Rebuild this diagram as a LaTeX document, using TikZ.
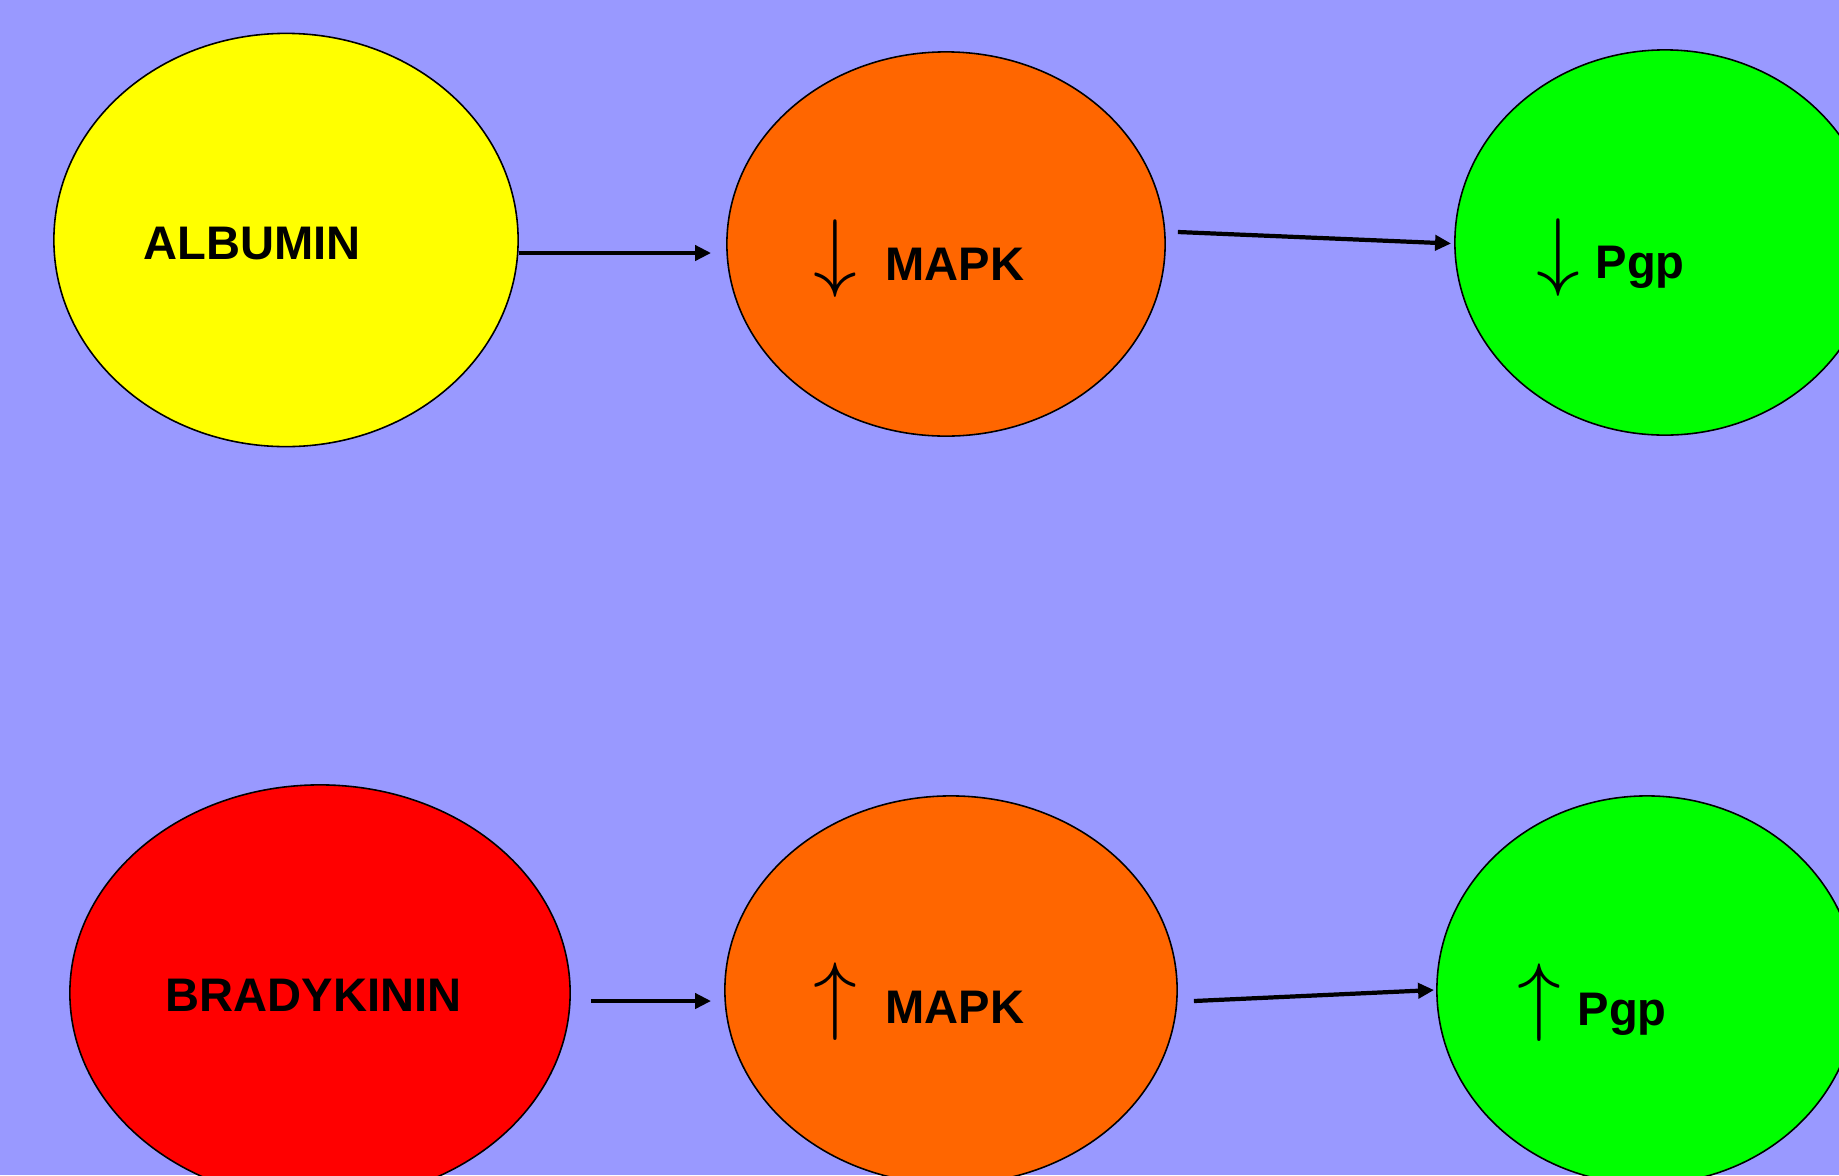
\documentclass[tikz,border=0pt]{standalone}
\usepackage{fontspec}
\setmainfont{Liberation Sans}
\usetikzlibrary{shapes.geometric,arrows.meta,calc}
\definecolor{bgblue}{HTML}{9999FF}
\definecolor{yellowc}{HTML}{FFFF00}
\definecolor{orangec}{HTML}{FF6600}
\definecolor{greenc}{HTML}{00FF00}
\definecolor{redc}{HTML}{FF0000}
\begin{document}
\begin{tikzpicture}[x=0.01cm,y=-0.01cm,
  blob/.style={ellipse,draw=black,line width=0.45pt,inner sep=0pt},
  lbl/.style={anchor=base west,inner sep=0pt,font=\fontsize{13.4}{16}\selectfont\bfseries},
  updown/.style={inner sep=0pt,font=\fontsize{24.88}{25}\selectfont},
  conn/.style={line width=1.2pt,-{Triangle[length=0.16cm,width=0.15cm]}}]
\useasboundingbox (0,0) rectangle (1839,1175);
\clip (0,0) rectangle (1839,1175);
\fill[bgblue] (0,0) rectangle (1839,1175);
% top row
\node[blob,fill=yellowc,minimum width=4.64cm,minimum height=4.13cm] (alb) at (286,240) {};
\node[blob,fill=orangec,minimum width=4.38cm,minimum height=3.84cm] (mapk1) at (946,244) {};
\node[blob,fill=greenc,minimum width=4.20cm,minimum height=3.85cm] (pgp1) at (1665,242.5) {};
% bottom row
\node[blob,fill=redc,minimum width=5.00cm,minimum height=4.16cm] (red) at (320,993) {};
\node[blob,fill=orangec,minimum width=4.52cm,minimum height=3.88cm] (mapk2) at (951,990) {};
\node[blob,fill=greenc,minimum width=4.20cm,minimum height=3.88cm] (pgp2) at (1647,990) {};
% labels
\node[lbl] (talb) at (143,259) {ALBUMIN};
\node[lbl] (tmapk1) at (885,280) {MAPK};
\node[lbl] (tpgp1) at (1595,278) {Pgp};
\node[lbl] (tred) at (165,1011) {BRADYKININ};
\node[lbl] (tmapk2) at (885,1023) {MAPK};
\node[lbl] (tpgp2) at (1577,1025) {Pgp};
\node[updown] (d1) at (835,259) {$\downarrow$};
\node[updown] (d2) at (1558,258) {$\downarrow$};
\node[updown] (u1) at (835,1002) {$\uparrow$};
\node[updown] (u2) at (1539,1003) {$\uparrow$};
% connectors
\draw[conn] ($(alb.east)+(0,13)$) -- ($(mapk1.west)+(-15,9)$);
\draw[conn] ($(mapk1.east)+(12,-12)$) -- ($(pgp1.west)+(-3,1)$);
\draw[conn] ($(red.east)+(20,8)$) -- ($(mapk2.west)+(-13,11)$);
\draw[conn] ($(mapk2.east)+(16,11)$) -- ($(pgp2.west)+(-2,0)$);
\end{tikzpicture}
\end{document}
